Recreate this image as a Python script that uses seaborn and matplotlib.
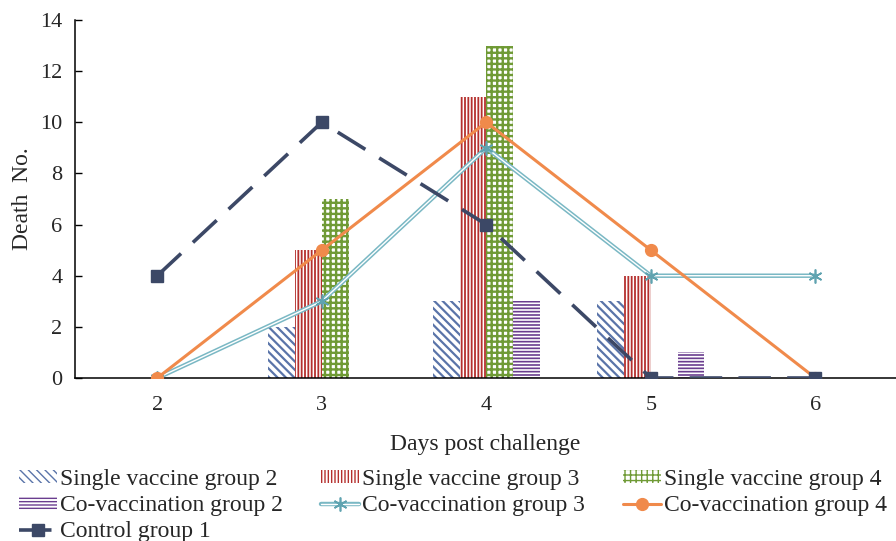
import numpy as np
import pandas as pd
import matplotlib
matplotlib.use("Agg")
import matplotlib.pyplot as plt
from matplotlib.patches import Patch
from matplotlib.legend_handler import HandlerTuple
import seaborn as sns

# ---- data ----
days = [2, 3, 4, 5, 6]
bar_groups = ["Single vaccine group 2", "Single vaccine group 3",
              "Single vaccine group 4", "Co-vaccination group 2"]
single2 = [0, 2, 3, 3, 0]
single3 = [0, 5, 11, 4, 0]
single4 = [0, 7, 13, 0, 0]
covac2 = [0, 0, 3, 1, 0]
covac3 = [0, 3, 9, 4, 4]
covac4 = [0, 5, 10, 5, 0]
control1 = [4, 10, 6, 0, 0]
y_ticks = [0, 2, 4, 6, 8, 10, 12, 14]

bar_colors = ["#5a74a9", "#b5302e", "#6f9a35", "#6a3d8f"]
bar_hatches = ["\\\\\\\\", "|||||", "+++", "-----"]
hatch_lw = [1.6, 1.3, 1.7, 1.2]

sns.set_theme(style="white")
plt.rcParams["font.family"] = ["Liberation Serif", "DejaVu Serif"]
FS = 17
FS_T = 16

rows = []
for g, vals in zip(bar_groups, [single2, single3, single4, covac2]):
    for d, v in zip(days, vals):
        rows.append({"day": d, "deaths": v, "group": g})
df = pd.DataFrame(rows)

fig = plt.figure(figsize=(8.96, 5.41), dpi=100)
ax = fig.add_axes([75 / 896, 1 - 378 / 541, 1 - 75 / 896, (378 - 20) / 541])

sns.barplot(data=df, x="day", y="deaths", hue="group", hue_order=bar_groups,
            native_scale=True, width=0.65, ax=ax, legend=False,
            palette=["white"] * 4, errorbar=None, saturation=1)

for cont, col, h, lw in zip(ax.containers, bar_colors, bar_hatches, hatch_lw):
    for p in cont:
        p.set_facecolor("white")
        p.set_edgecolor(col)
        p.set_linewidth(0)
        p.set_hatch(h)
        if hasattr(p, "set_hatch_linewidth"):
            p.set_hatch_linewidth(lw)

x = np.array(days)
# co-vaccination group 3: double line (teal outline, white core) + asterisk markers
c3_outer, = ax.plot(x, covac3, color="#7ab8c4", lw=3.2, zorder=6)
c3_inner, = ax.plot(x, covac3, color="white", lw=1.0, zorder=6.1)
c3_mark, = ax.plot(x, covac3, ls="none", marker=(6, 2, 0), markersize=10,
                   markeredgecolor="#5fa3b0", markeredgewidth=1.2, zorder=6.2)
c4, = ax.plot(x, covac4, color="#f08a4b", lw=2.2, marker="o", markersize=8.5,
              zorder=7)
ctrl, = ax.plot(x, control1, color="#3c4866", lw=2.6, dashes=(9, 4.5),
                marker="s", markersize=8.5, zorder=8)

ax.set_xlim(1.5, 6.49)
ax.set_ylim(0, 14)
ax.set_xticks(days)
ax.set_xticklabels([str(d) for d in days])
ax.set_yticks(y_ticks)
ax.set_yticklabels([str(t) for t in y_ticks])
ax.tick_params(axis="y", direction="in", length=5, width=1, color="black",
               labelsize=FS_T, pad=9, left=True)
ax.tick_params(axis="x", length=0, labelsize=FS_T, pad=13)
for s in ["top", "right"]:
    ax.spines[s].set_visible(False)
for s in ["left", "bottom"]:
    ax.spines[s].set_color("black")
    ax.spines[s].set_linewidth(1.1)
ax.set_xlabel("Days post challenge", fontsize=FS, labelpad=14)
ax.set_ylabel("Death  No.", fontsize=FS, labelpad=5)
ax.grid(False)

# legend
bar_handles = []
for col, h, lw in zip(bar_colors, bar_hatches, hatch_lw):
    ph = Patch(facecolor="white", edgecolor=col, hatch=h, linewidth=0)
    if hasattr(ph, "set_hatch_linewidth"):
        ph.set_hatch_linewidth(lw)
    bar_handles.append(ph)
c3_handle = (c3_outer, c3_inner, c3_mark)
handles = [bar_handles[0], bar_handles[3], ctrl,
           bar_handles[1], c3_handle,
           bar_handles[2], c4]
labels = [bar_groups[0], bar_groups[3], "Control group 1",
          bar_groups[1], "Co-vaccination group 3",
          bar_groups[2], "Co-vaccination group 4"]
fig.legend(handles, labels, ncol=3, loc="upper left",
           bbox_to_anchor=(19 / 896, 1 - 469 / 541), frameon=False,
           fontsize=FS, handlelength=1.6, handleheight=0.5,
           handletextpad=0.15, columnspacing=1.6, labelspacing=0.22,
           borderpad=0, borderaxespad=0,
           handler_map={tuple: HandlerTuple(ndivide=1)})

fig.savefig("out.png", dpi=100)
